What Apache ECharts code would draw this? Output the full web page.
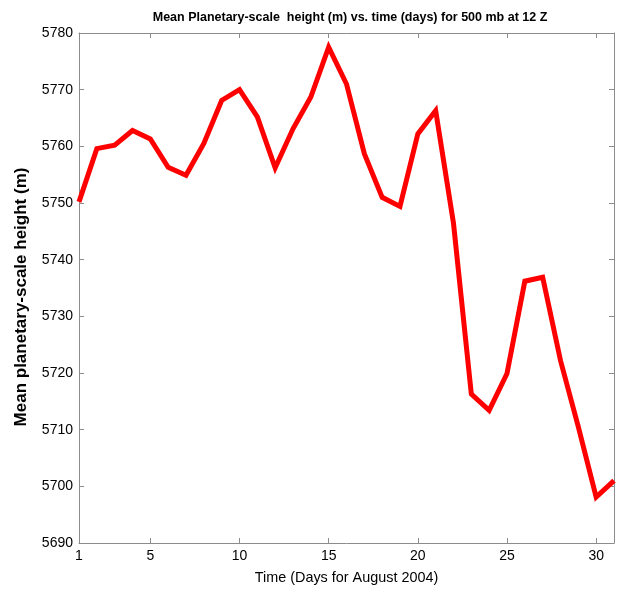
<!DOCTYPE html>
<html>
<head>
<meta charset="utf-8">
<script src="https://cdn.jsdelivr.net/npm/echarts@6/dist/echarts.min.js"></script>
<style>
  html, body { margin: 0; padding: 0; background: #fff; }
  #chart { width: 617px; height: 592px; }
</style>
</head>
<body>
<div id="chart"></div>
<script>
// Days of August 2004
const days = [1,2,3,4,5,6,7,8,9,10,11,12,13,14,15,16,17,18,19,20,21,22,23,24,25,26,27,28,29,30,31];
// Mean planetary-scale 500 mb height (m) at 12 Z
const heights = [5750.2,5759.6,5760.2,5762.8,5761.3,5756.3,5754.9,5760.5,5768.1,5770.0,
                 5765.2,5756.2,5763.1,5768.7,5777.5,5771.0,5758.7,5751.0,5749.4,5762.2,
                 5766.3,5746.4,5716.3,5713.4,5719.9,5736.2,5736.9,5722.2,5710.5,5698.1,5701.0];
const xLabelValues = [1,5,10,15,20,25,30];
const xTickValues = [5,10,15,20,25,30];
const yTicks = [5690,5700,5710,5720,5730,5740,5750,5760,5770,5780];

const axisGrey = '#8c8c8c';
const font = 'Liberation Sans, Arial, sans-serif';

const chart = echarts.init(document.getElementById('chart'), null, { renderer: 'canvas' });
chart.setOption({
  animation: false,
  backgroundColor: '#ffffff',
  title: {
    text: 'Mean Planetary-scale  height (m) vs. time (days) for 500 mb at 12 Z',
    left: 345, top: 6, textAlign: 'center',
    textStyle: { fontFamily: font, fontSize: 12.5, fontWeight: 'bold', color: '#000' }
  },
  // vertical y-axis title
  graphic: [{
    type: 'text', x: 21, y: 297, rotation: Math.PI / 2,
    style: {
      text: 'Mean planetary-scale height (m)',
      font: 'bold 17px Liberation Sans, Arial, sans-serif',
      fill: '#000', align: 'center', verticalAlign: 'middle'
    }
  }],
  grid: { left: 79, right: 3, top: 33, bottom: 49 },
  xAxis: [{
    type: 'value', min: 1, max: 31, position: 'bottom',
    name: 'Time (Days for August 2004)', nameLocation: 'middle', nameGap: 28,
    nameTextStyle: { fontFamily: font, fontSize: 14.4, color: '#000' },
    axisLine: { show: true, lineStyle: { color: axisGrey, width: 1 } },
    axisTick: { show: true, inside: true, length: 5, customValues: xTickValues, lineStyle: { color: axisGrey } },
    axisLabel: { customValues: xLabelValues, fontFamily: font, fontSize: 14, color: '#000', margin: 6 },
    splitLine: { show: false }
  }, {
    type: 'value', min: 1, max: 31, position: 'top',
    axisLine: { show: true, onZero: false, lineStyle: { color: axisGrey, width: 1 } },
    axisTick: { show: true, inside: true, length: 5, customValues: xTickValues, lineStyle: { color: axisGrey } },
    axisLabel: { show: false },
    splitLine: { show: false }
  }],
  yAxis: [{
    type: 'value', min: 5690, max: 5780, interval: 10, position: 'left',
    axisLine: { show: true, lineStyle: { color: axisGrey, width: 1 } },
    axisTick: { show: true, inside: true, length: 5, lineStyle: { color: axisGrey } },
    axisLabel: { fontFamily: font, fontSize: 14, color: '#000', margin: 6,
                 customValues: yTicks, formatter: v => String(v) },
    splitLine: { show: false }
  }, {
    type: 'value', min: 5690, max: 5780, interval: 10, position: 'right',
    axisLine: { show: true, onZero: false, lineStyle: { color: axisGrey, width: 1 } },
    axisTick: { show: true, inside: true, length: 5, lineStyle: { color: axisGrey } },
    axisLabel: { show: false },
    splitLine: { show: false }
  }],
  series: [{
    type: 'line',
    data: days.map((d, i) => [d, heights[i]]),
    xAxisIndex: 0, yAxisIndex: 0,
    showSymbol: false, symbol: 'none',
    lineStyle: { color: '#ff0000', width: 5, join: 'miter' },
    clip: true
  }]
});
</script>
</body>
</html>
